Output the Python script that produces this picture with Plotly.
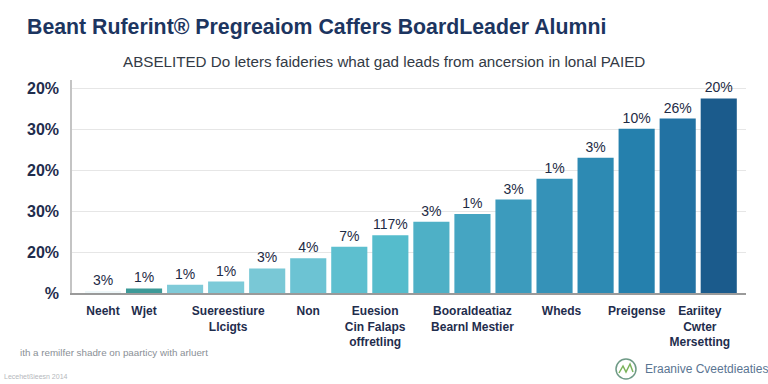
import plotly.graph_objects as go

# ---- data ----
bar_values = [0.03, 0.11, 0.20, 0.28, 0.60, 0.85, 1.13, 1.41, 1.74, 1.93, 2.28, 2.79, 3.30, 4.01, 4.26, 4.75]
bar_labels = ["3%", "1%", "1%", "1%", "3%", "4%", "7%", "117%", "3%", "1%", "3%", "1%", "3%", "10%", "26%", "20%"]
bar_colors = ["#eef7f9", "#3d9a98", "#7fcad8", "#7ccad8", "#79c8d6", "#6cc3d3", "#5dbfcf", "#55bccc",
              "#4eb0c6", "#45a5c2", "#3c9bbd", "#3592b8", "#2d8ab3", "#2580ad", "#2272a3", "#1b5b8c"]
cat_tick_pos = [0, 1, 3.05, 5, 6.63, 9.0, 11.17, 13.0, 14.54]
cat_tick_text = ["Neeht", "Wjet", "Suereestiure<br>Llcigts", "Non", "Euesion<br>Cin Falaps<br>offretling",
                 "Booraldeatiaz<br>Bearnl Mestier", "Wheds", "Preigense", "Eariitey<br>Cwter<br>Mersetting"]
y_tick_vals = [0, 1, 2, 3, 4, 5]
y_tick_text = ["%", "20%", "30%", "20%", "30%", "20%"]

title_text = "Beant Ruferint® Pregreaiom Caffers BoardLeader Alumni"
subtitle_text = "ABSELITED Do leters faideries what gad leads from ancersion in lonal PAIED"
note_text = "ith a remilfer shadre on paarticy with arluert"
source_text = "Lecehetßieesn 2014"
brand_text = "Eraanive Cveetdieaties"

W, H = 768, 384
L, R, T, B = 72, 746, 80, 293


def px(x):
    return (x - L) / (R - L)


def py(y):
    return (B - y) / (B - T)


fig = go.Figure(go.Bar(
    x=list(range(len(bar_values))),
    y=bar_values,
    width=0.88,
    marker=dict(color=bar_colors, line=dict(width=0)),
    text=bar_labels,
    textposition="outside",
    textfont=dict(family="Liberation Sans", size=14, color="#1e2b45"),
    constraintext="none",
    cliponaxis=False,
    hoverinfo="skip",
))

font_narrow = "Liberation Sans Narrow, Arial Narrow, Liberation Sans, Arial, sans-serif"

fig.update_layout(
    width=W, height=H,
    margin=dict(l=L, r=W - R, t=T, b=H - B, pad=0, autoexpand=False),
    paper_bgcolor="white", plot_bgcolor="white",
    showlegend=False,
    xaxis=dict(
        range=[-0.755, 15.664],
        tickmode="array", tickvals=cat_tick_pos, ticktext=cat_tick_text,
        tickfont=dict(family=font_narrow, size=12, color="#1f2d4d", weight="bold"),
        tickangle=0, automargin=False,
        showgrid=False, zeroline=False,
        showline=True, linecolor="#9a9a9a", linewidth=1.5,
        ticks="", ticklabelstandoff=6,
    ),
    yaxis=dict(
        range=[0, 5.2], automargin=False,
        tickmode="array", tickvals=y_tick_vals, ticktext=y_tick_text,
        tickfont=dict(family="Liberation Sans", size=16, color="#1f2d4d", weight="bold"),
        showgrid=True, gridcolor="#e6e6e6", gridwidth=1,
        zeroline=False,
        showline=True, linecolor="#c4c4c4", linewidth=1.5,
        ticks="", ticklabelstandoff=8,
    ),
    annotations=[
        dict(text=title_text, x=px(25), y=py(27), xref="paper", yref="paper",
             xanchor="left", yanchor="middle", showarrow=False,
             font=dict(family="Liberation Sans", size=21.3, color="#1c3560", weight="bold")),
        dict(text=subtitle_text, x=px(121), y=py(61), xref="paper", yref="paper",
             xanchor="left", yanchor="middle", showarrow=False,
             font=dict(family="Liberation Sans", size=15.2, color="#333a45")),
        dict(text=note_text, x=px(18), y=py(352), xref="paper", yref="paper",
             xanchor="left", yanchor="middle", showarrow=False,
             font=dict(family="Liberation Sans", size=9.8, color="#8a8f96")),
        dict(text=source_text, x=px(2), y=py(376), xref="paper", yref="paper",
             xanchor="left", yanchor="middle", showarrow=False,
             font=dict(family="Liberation Sans", size=7, color="#b5b8bc")),
        dict(text=brand_text, x=px(643), y=py(369), xref="paper", yref="paper",
             xanchor="left", yanchor="middle", showarrow=False,
             font=dict(family="Liberation Sans", size=12, color="#5a7592")),
    ],
    shapes=[
        dict(type="circle", xref="paper", yref="paper",
             x0=px(616), x1=px(636), y0=py(379), y1=py(359),
             line=dict(color="#6e9a86", width=1.5), fillcolor="rgba(0,0,0,0)"),
        dict(type="path", xref="paper", yref="paper",
             path=f"M {px(619)},{py(373)} L {px(623)},{py(366)} L {px(626)},{py(372)} L {px(630)},{py(364)} L {px(633)},{py(372)}",
             line=dict(color="#7bb35a", width=1.5)),
    ],
)

fig.write_html("out.html", config={"displayModeBar": False},
               post_script="document.body.style.margin='0';document.body.style.overflow='hidden';")
